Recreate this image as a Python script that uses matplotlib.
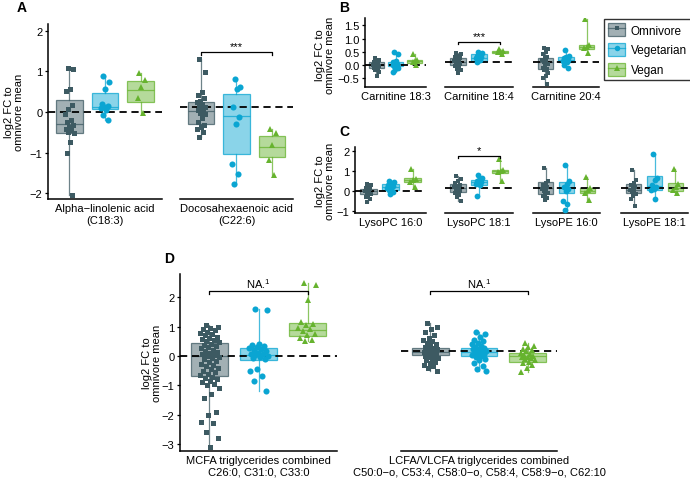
import matplotlib
matplotlib.use("Agg")
import matplotlib.pyplot as plt
import numpy as np
from matplotlib.colors import to_rgba
from matplotlib.lines import Line2D
from matplotlib.patches import Patch

plt.rcParams['font.family'] = ['Liberation Sans', 'DejaVu Sans']
plt.rcParams['mathtext.fontset'] = 'custom'
plt.rcParams['mathtext.rm'] = 'Liberation Sans'

groups = ['Omnivore', 'Vegetarian', 'Vegan']
point_cols = ['#3d5a62', '#0aa5d2', '#66b32e']
markers = ['s', 'o', '^']
msizes = [3.6, 4.4, 4.8]

# ---- panel A: fatty acids (points, box quartiles q1/med/q3, omnivore mean line)
ala_omni = [1.08, 1.05, 0.57, 0.51, 0.16, 0.08, -0.04, -0.2, -0.26, -0.31, -0.37,
            -0.41, -0.45, -0.49, -0.53, -0.74, -1.02, -2.03]
ala_veg = [0.89, 0.74, 0.57, 0.19, 0.15, 0.12, 0.1, 0.05, -0.08, -0.2]
ala_vegan = [0.95, 0.78, 0.6, 0.35, -0.02]
ala_box = [(-0.51, -0.30, 0.30), (0.06, 0.11, 0.47), (0.25, 0.55, 0.77)]
ala_ref = 0.0

dha_omni = [1.31, 0.98, 0.49, 0.41, 0.33, 0.28, 0.24, 0.2, 0.15, 0.12, 0.08, 0.04,
            0.02, -0.02, -0.06, -0.15, -0.25, -0.32, -0.37, -0.41, -0.49, -0.62]
dha_veg = [0.8, 0.61, 0.57, 0.12, -0.12, -0.29, -1.27, -1.53, -1.76]
dha_vegan = [-0.41, -0.51, -0.82, -1.19, -1.56]
dha_box = [(-0.29, 0.02, 0.24), (-1.03, -0.11, 0.43), (-1.11, -0.85, -0.6)]
dha_ref = 0.12

# ---- panel B: carnitines
c183_omni = [0.25, 0.2, 0.15, 0.1, 0.08, 0.05, 0.02, 0.0, -0.02, -0.05, -0.08, -0.1,
             -0.15, -0.2, -0.25, -0.4]
c183_veg = [0.5, 0.42, 0.15, 0.1, 0.05, 0.03, 0.0, -0.02, -0.05, -0.1, -0.15, -0.25]
c183_vegan = [0.42, 0.2, 0.15, 0.1, 0.0]
c183_box = [(-0.1, 0.0, 0.1), (-0.05, 0.03, 0.1), (0.08, 0.15, 0.2)]
c183_ref = 0.0

c184_omni = [0.45, 0.4, 0.35, 0.3, 0.25, 0.2, 0.15, 0.12, 0.1, 0.05, 0.0, -0.05,
             -0.1, -0.15, -0.2, -0.3]
c184_veg = [0.5, 0.45, 0.4, 0.35, 0.3, 0.28, 0.25, 0.2, 0.12]
c184_vegan = [0.6, 0.55, 0.5, 0.48, 0.42]
c184_box = [(0.0, 0.12, 0.25), (0.15, 0.28, 0.4), (0.45, 0.5, 0.55)]
c184_ref = 0.12

c204_omni = [0.65, 0.6, 0.5, 0.4, 0.3, 0.25, 0.2, 0.15, 0.1, 0.05, 0.0, -0.1, -0.15,
             -0.2, -0.3, -0.4, -0.5, -0.7]
c204_veg = [0.58, 0.35, 0.3, 0.25, 0.2, 0.18, 0.15, 0.1, 0.0, -0.1]
c204_vegan = [1.75, 0.75, 0.7, 0.65, 0.45]
c204_box = [(-0.15, 0.1, 0.25), (0.1, 0.2, 0.3), (0.6, 0.68, 0.75)]
c204_ref = 0.12

# ---- panel C: lysophospholipids
lpc160_omni = [0.35, 0.3, 0.2, 0.15, 0.1, 0.05, 0.0, -0.05, -0.1, -0.15, -0.2, -0.3,
               -0.4, -0.55]
lpc160_veg = [0.5, 0.45, 0.4, 0.3, 0.25, 0.2, 0.15, 0.1, 0.05, -0.05, -0.15]
lpc160_vegan = [1.1, 0.6, 0.55, 0.45, 0.2]
lpc160_box = [(-0.15, 0.0, 0.1), (0.05, 0.2, 0.35), (0.45, 0.55, 0.65)]
lpc160_ref = 0.0

lpc181_omni = [0.75, 0.6, 0.5, 0.4, 0.3, 0.25, 0.2, 0.15, 0.1, 0.0, -0.05, -0.1,
               -0.2, -0.3, -0.5]
lpc181_veg = [0.8, 0.65, 0.55, 0.5, 0.45, 0.4, 0.35, 0.3, -0.25]
lpc181_vegan = [1.6, 1.05, 1.0, 0.95, 0.5]
lpc181_box = [(-0.05, 0.15, 0.35), (0.3, 0.45, 0.55), (0.9, 1.0, 1.05)]
lpc181_ref = 0.15

lpe160_omni = [1.15, 0.5, 0.4, 0.3, 0.2, 0.15, 0.1, 0.05, 0.0, -0.1, -0.15, -0.25,
               -0.35, -0.45]
lpe160_veg = [1.3, 0.5, 0.35, 0.2, 0.1, 0.0, -0.5, -0.65, -0.95]
lpe160_vegan = [0.7, 0.15, 0.05, -0.1, -0.45]
lpe160_box = [(-0.15, 0.15, 0.45), (-0.1, 0.15, 0.45), (-0.1, 0.0, 0.15)]
lpe160_ref = 0.15

lpe181_omni = [1.05, 0.55, 0.4, 0.3, 0.2, 0.1, 0.05, 0.0, -0.05, -0.15, -0.25, -0.4,
               -0.75]
lpe181_veg = [1.85, 0.65, 0.55, 0.3, 0.2, 0.1, 0.05, -0.4]
lpe181_vegan = [1.1, 0.35, 0.2, 0.05, -0.1]
lpe181_box = [(-0.1, 0.05, 0.35), (0.05, 0.25, 0.75), (0.0, 0.15, 0.4)]
lpe181_ref = 0.15

# ---- panel D: triglycerides combined
mcfa_omni = [1.05, 1.0, 0.96, 0.9, 0.87, 0.83, 0.78, 0.74, 0.7, 0.64, 0.61, 0.57,
             0.53, 0.5, 0.46, 0.41, 0.37, 0.34, 0.3, 0.26, 0.21, 0.18, 0.14, 0.1,
             0.06, 0.03, 0.0, -0.03, -0.06, -0.11, -0.16, -0.2, -0.26, -0.31, -0.35,
             -0.41, -0.45, -0.5, -0.56, -0.6, -0.66, -0.71, -0.76, -0.8, -0.86, -0.9,
             -0.96, -1.0, -1.1, -1.3, -1.45, -1.9, -2.0, -2.25, -2.3, -2.6, -2.8, -3.1]
mcfa_veg = [1.6, 1.55, 0.42, 0.38, 0.35, 0.3, 0.28, 0.25, 0.2, 0.15, 0.1, 0.08, 0.05,
            0.02, 0.0, -0.03, -0.08, -0.12, -0.45, -0.5, -0.7, -0.85, -1.2]
mcfa_vegan = [2.5, 2.4, 1.9, 1.15, 1.1, 1.05, 0.95, 0.9, 0.85, 0.75, 0.7, 0.6, 0.55, 0.5]
mcfa_box = [(-0.69, 0.0, 0.44), (-0.13, 0.02, 0.27), (0.68, 0.88, 1.12)]
mcfa_ref = 0.0

lcfa_omni = [1.12, 1.0, 0.9, 0.8, 0.7, 0.6, 0.55, 0.5, 0.45, 0.4, 0.36, 0.32, 0.28,
             0.25, 0.22, 0.2, 0.18, 0.16, 0.14, 0.12, 0.1, 0.08, 0.05, 0.02, 0.0,
             -0.03, -0.05, -0.08, -0.1, -0.15, -0.2, -0.25, -0.3, -0.36, -0.42, -0.5]
lcfa_veg = [0.83, 0.75, 0.65, 0.55, 0.5, 0.45, 0.4, 0.35, 0.3, 0.27, 0.24, 0.22, 0.2,
            0.18, 0.15, 0.12, 0.1, 0.08, 0.05, 0.02, 0.0, -0.05, -0.1, -0.15, -0.25,
            -0.35, -0.45, -0.53]
lcfa_vegan = [0.44, 0.35, 0.3, 0.25, 0.2, 0.15, 0.1, 0.05, 0.02, 0.0, -0.03, -0.05,
              -0.08, -0.1, -0.15, -0.2, -0.25, -0.3, -0.4, -0.55]
lcfa_box = [(0.03, 0.14, 0.26), (0.0, 0.13, 0.27), (-0.2, 0.0, 0.1)]
lcfa_ref = 0.18

W, H = 690, 485
fig = plt.figure(figsize=(W / 100, H / 100), dpi=100)
FS = 8


def add_ax(x0, x1, y0, y1):
    return fig.add_axes([x0 / W, 1 - y1 / H, (x1 - x0) / W, (y1 - y0) / H])


def facet(ax, pts, boxes, ref, ylim, yticks, label, first, jit=0.13, sig=None, ms=1.0):
    for i in range(3):
        vals = np.asarray(pts[i], dtype=float)
        q1, med, q3 = boxes[i]
        c = point_cols[i]
        ec = to_rgba(c, 0.75)
        st = [dict(q1=q1, med=med, q3=q3, whislo=vals.min(), whishi=vals.max(), fliers=[])]
        ax.bxp(st, positions=[i - 1], widths=0.75, patch_artist=True, showcaps=False,
               boxprops=dict(facecolor=to_rgba(c, 0.48), edgecolor=ec, lw=0.9),
               medianprops=dict(color=ec, lw=0.9),
               whiskerprops=dict(color=ec, lw=0.9), zorder=1)
        n = len(vals)
        off = jit * 2 * ((np.arange(n) * 0.618034 + 0.31) % 1 - 0.5)
        ax.plot(i - 1 + off, vals, linestyle='none', marker=markers[i], color=c,
                ms=msizes[i] * ms, mew=0, zorder=3)
    ax.axhline(ref, color='black', lw=1.3, dashes=(4, 2.6), zorder=2)
    ax.set_xlim(-1.6, 1.6)
    ax.set_ylim(*ylim)
    for s in ['top', 'right']:
        ax.spines[s].set_visible(False)
    ax.spines['bottom'].set_linewidth(1.1)
    ax.spines['left'].set_linewidth(1.1)
    ax.set_xticks([0], [label], fontsize=FS)
    ax.tick_params(axis='x', length=0, pad=3)
    if first:
        ax.set_yticks(yticks)
        ax.tick_params(axis='y', length=2.5, width=0.9, pad=1.5, labelsize=FS)
    else:
        ax.spines['left'].set_visible(False)
        ax.set_yticks([])
    if sig is not None:
        h, d, txt, th = sig
        ax.plot([-1, -1, 1, 1], [h - d, h, h, h - d], color='black', lw=0.9, zorder=4,
                clip_on=False)
        ax.text(0, th, txt, ha='center', va='bottom', fontsize=FS, clip_on=False)


# panel A
ylA = (-2.14, 2.16)
ax = add_ax(48, 162, 25, 200)
facet(ax, [ala_omni, ala_veg, ala_vegan], ala_box, ala_ref, ylA, [-2, -1, 0, 1, 2],
      'Alpha\u2212linolenic acid\n(C18:3)', True, jit=0.13)
ax = add_ax(180, 293, 25, 200)
facet(ax, [dha_omni, dha_veg, dha_vegan], dha_box, dha_ref, ylA, None,
      'Docosahexaenoic acid\n(C22:6)', False, jit=0.13,
      sig=(1.47, 0.06, '***', 1.5))

# panel B
ylB = (-0.83, 1.78)
ax = add_ax(365, 426, 19, 88)
facet(ax, [c183_omni, c183_veg, c183_vegan], c183_box, c183_ref, ylB,
      [-0.5, 0.0, 0.5, 1.0, 1.5], 'Carnitine 18:3', True, jit=0.16, ms=0.95)
ax.set_yticklabels(['\u22120.5', '0.0', '0.5', '1.0', '1.5'])
ax = add_ax(445, 513, 19, 88)
facet(ax, [c184_omni, c184_veg, c184_vegan], c184_box, c184_ref, ylB, None,
      'Carnitine 18:4', False, jit=0.16, ms=0.95, sig=(0.87, 0.08, '***', 0.9))
ax = add_ax(533, 599, 19, 88)
facet(ax, [c204_omni, c204_veg, c204_vegan], c204_box, c204_ref, ylB, None,
      'Carnitine 20:4', False, jit=0.16, ms=0.95)

# panel C
ylC = (-1.1, 2.2)
ax = add_ax(355, 426, 148, 214)
facet(ax, [lpc160_omni, lpc160_veg, lpc160_vegan], lpc160_box, lpc160_ref, ylC,
      [-1, 0, 1, 2], 'LysoPC 16:0', True, jit=0.16, ms=0.95)
ax = add_ax(445, 513, 148, 214)
facet(ax, [lpc181_omni, lpc181_veg, lpc181_vegan], lpc181_box, lpc181_ref, ylC, None,
      'LysoPC 18:1', False, jit=0.16, ms=0.95, sig=(1.75, 0.12, '*', 1.78))
ax = add_ax(533, 600, 148, 214)
facet(ax, [lpe160_omni, lpe160_veg, lpe160_vegan], lpe160_box, lpe160_ref, ylC, None,
      'LysoPE 16:0', False, jit=0.16, ms=0.95)
ax = add_ax(621, 688, 148, 214)
facet(ax, [lpe181_omni, lpe181_veg, lpe181_vegan], lpe181_box, lpe181_ref, ylC, None,
      'LysoPE 18:1', False, jit=0.16, ms=0.95)

# panel D
ylD = (-3.24, 2.79)
ax = add_ax(180, 337, 275, 452)
facet(ax, [mcfa_omni, mcfa_veg, mcfa_vegan], mcfa_box, mcfa_ref, ylD,
      [-3, -2, -1, 0, 1, 2], 'MCFA triglycerides combined\nC26:0, C31:0, C33:0', True,
      jit=0.2, sig=(2.22, 0.1, 'NA.$^{1}$', 2.26))
ax = add_ax(401, 557, 275, 452)
facet(ax, [lcfa_omni, lcfa_veg, lcfa_vegan], lcfa_box, lcfa_ref, ylD, None,
      'LCFA/VLCFA triglycerides combined\n'
      'C50:0\u2212o, C53:4, C58:0\u2212o, C58:4, C58:9\u2212o, C62:10', False,
      jit=0.15, sig=(2.22, 0.1, 'NA.$^{1}$', 2.26))

# y labels
ylab = 'log2 FC to\nomnivore mean'
for px, py in [(14, 112), (325, 55), (325, 181), (152, 363)]:
    fig.text(px / W, 1 - py / H, ylab, rotation=90, ha='center', va='center',
             fontsize=FS, linespacing=1.0)

# panel letters
for letter, px, py in [('A', 22, 8), ('B', 344, 8), ('C', 344, 132), ('D', 169, 259)]:
    fig.text(px / W, 1 - py / H, letter, ha='center', va='center', fontsize=10,
             fontweight='bold')

# legend
handles = []
for i in range(3):
    c = point_cols[i]
    box = Patch(facecolor=to_rgba(c, 0.48), edgecolor=to_rgba(c, 0.75), lw=0.9)
    mk = Line2D([], [], color=to_rgba(c, 0.75), lw=0.9, marker=markers[i],
                markerfacecolor=c, markeredgewidth=0, ms=msizes[i] * 0.9)
    handles.append((box, mk))
leg = fig.legend(handles, groups, loc='upper left', bbox_to_anchor=(604 / W, 1 - 20 / H),
                 fontsize=8.5, frameon=True, fancybox=False, borderaxespad=0,
                 handlelength=1.45, handleheight=1.3, labelspacing=0.55,
                 borderpad=0.35, handletextpad=0.45)
leg.get_frame().set_edgecolor('black')
leg.get_frame().set_linewidth(1.0)

fig.savefig('out.png', dpi=100)
